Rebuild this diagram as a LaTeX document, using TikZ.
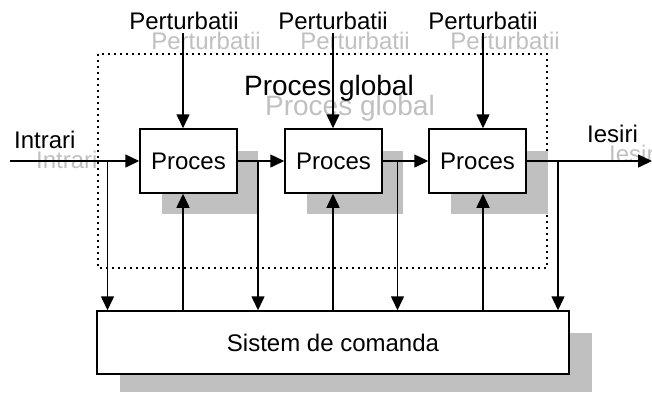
\documentclass[tikz,border=0pt]{standalone}
\usepackage{fontspec}
\setmainfont{Liberation Sans}
\usetikzlibrary{arrows.meta}
\definecolor{shadowgray}{RGB}{192,192,192}
\tikzset{
  arr/.style={line width=1.5pt,-{Triangle[length=14pt,width=13pt]}},
  procbox/.style={draw,line width=1.5pt,fill=white,minimum width=97pt,minimum height=64pt,inner sep=0pt,font=\fontsize{24}{28}\selectfont},
  lbl/.style={font=\fontsize{24}{28}\selectfont,inner sep=0pt,anchor=base},
  glbl/.style={lbl,text=shadowgray},
  big/.style={font=\fontsize{28}{32}\selectfont,inner sep=0pt,anchor=base}
}
\begin{document}
\begin{tikzpicture}[x=1pt,y=-1pt]
\useasboundingbox (0,0) rectangle (652,392);
% dotted frame
\draw[line width=1.5pt,dash pattern=on 2pt off 4pt] (98,54) rectangle (547,268);
% gray ghost texts
\node[glbl] (gp1) at (206,49) {Perturbatii};
\node[glbl] (gp2) at (355,49) {Perturbatii};
\node[glbl] (gp3) at (505,49) {Perturbatii};
\node[big,text=shadowgray] (gpg) at (350,115) {Proces global};
\node[glbl,anchor=base west] (gin) at (36,168) {Intrari};
\node[glbl,anchor=base west] (gout) at (609,162) {Iesiri};
% shadows
\fill[shadowgray] (162,151) rectangle (258,214);
\fill[shadowgray] (307,151) rectangle (403,214);
\fill[shadowgray] (451,151) rectangle (548,214);
\fill[shadowgray] (120,333) rectangle (592,392);
% boxes
\node[procbox] (b1) at (188.5,161) {Proces};
\node[procbox] (b2) at (333.5,161) {Proces};
\node[procbox] (b3) at (477.5,161) {Proces};
\node[procbox,minimum width=472pt,minimum height=63pt] (sc) at (333,342.5) {Sistem de comanda};
% black labels
\node[lbl] (p1) at (184,29) {Perturbatii};
\node[lbl] (p2) at (333,29) {Perturbatii};
\node[lbl] (p3) at (483,29) {Perturbatii};
\node[big] (pg) at (329,95) {Proces global};
\node[lbl,anchor=base west] (in) at (14,148) {Intrari};
\node[lbl,anchor=base west] (out) at (587,142) {Iesiri};
% coordinates
\coordinate (t1) at (183,33);
\coordinate (t2) at (333,33);
\coordinate (t3) at (483,33);
\coordinate (src) at (10,161);
\coordinate (dst) at (652,161);
\coordinate (d0) at (107.5,161);
\coordinate (d1) at (258,161);
\coordinate (d2) at (397.5,161);
\coordinate (d3) at (558,161);
% perturbations
\draw[arr] (t1) -- (t1 |- b1.north);
\draw[arr] (t2) -- (t2 |- b2.north);
\draw[arr] (t3) -- (t3 |- b3.north);
% main chain
\draw[arr] (src) -- (b1.west);
\draw[arr] (b1.east) -- (b2.west);
\draw[arr] (b2.east) -- (b3.west);
\draw[arr] (b3.east) -- (dst);
% measurements down
\draw[arr] (d0) -- (d0 |- sc.north);
\draw[arr] (d1) -- (d1 |- sc.north);
\draw[arr] (d2) -- (d2 |- sc.north);
\draw[arr] (d3) -- (d3 |- sc.north);
% commands up
\draw[arr] (t1 |- sc.north) -- (t1 |- b1.south);
\draw[arr] (t2 |- sc.north) -- (t2 |- b2.south);
\draw[arr] (t3 |- sc.north) -- (t3 |- b3.south);
\end{tikzpicture}
\end{document}
